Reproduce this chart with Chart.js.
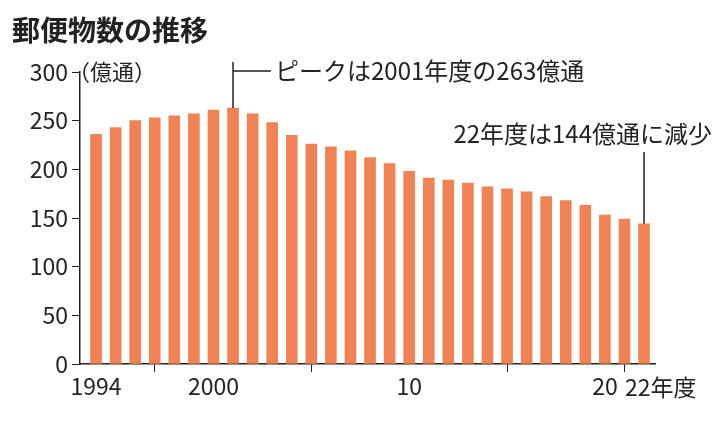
<!DOCTYPE html>
<html><head><meta charset="utf-8">
<script src="https://cdn.jsdelivr.net/npm/chart.js@4/dist/chart.umd.min.js"></script>
<style>body{margin:0;background:#fff}#wrap{width:722px;height:421px;position:relative}</style>
</head><body><div id="wrap"><canvas id="c"></canvas></div>
<script>
const years = [1994,1995,1996,1997,1998,1999,2000,2001,2002,2003,2004,2005,2006,2007,2008,2009,2010,2011,2012,2013,2014,2015,2016,2017,2018,2019,2020,2021,2022];
const volumes = [236,243,250,253,255,257,261,263,257,248,235,226,223,219,212,206,198,191,189,186,182,180,177,172,168,163,153,149,144];
const yTicks = [0,50,100,150,200,250,300];
const xTicks = [1994,2000,2010,2020,2022];
const xLabels = {1994:'1994',2000:'2000',2010:'10',2020:'20',2022:''};
const font = '"Noto Sans CJK JP", "Noto Sans", sans-serif';

const overlay = {
  id: 'overlay',
  afterDraw(chart) {
    const ctx = chart.ctx, x = chart.scales.x, y = chart.scales.y;
    ctx.save();
    ctx.fillStyle = '#222'; ctx.strokeStyle = '#222'; ctx.lineWidth = 1.5;
    ctx.font = 'bold 28px ' + font; ctx.textBaseline = 'middle';
    ctx.fillText('郵便物数の推移', 12, 30);
    ctx.font = '22px ' + font;
    ctx.fillText('（億通）', 68, y.getPixelForValue(300));
    // peak
    const px = x.getPixelForValue(2001), py = y.getPixelForValue(263);
    ctx.beginPath(); ctx.moveTo(px, py); ctx.lineTo(px, 62); ctx.moveTo(px, 71); ctx.lineTo(px + 38, 71); ctx.stroke();
    ctx.font = '24px ' + font;
    ctx.fillText('ピークは2001年度の263億通', px + 42, 71);
    // last
    const lx = x.getPixelForValue(2022), ly = y.getPixelForValue(144);
    ctx.beginPath(); ctx.moveTo(lx, 152); ctx.lineTo(lx, ly); ctx.stroke();
    ctx.textAlign = 'right';
    ctx.fillText('22年度は144億通に減少', 712, 134);
    ctx.textAlign = 'left';
    ctx.font = '23px ' + font;
    ctx.fillText('22年度', lx - 19, 387);
    ctx.restore();
  }
};

new Chart(document.getElementById('c'), {
  type: 'bar',
  data: { datasets: [{ data: years.map((yr, i) => ({ x: yr, y: volumes[i] })), backgroundColor: '#ee8355', barThickness: 11 }] },
  options: {
    responsive: true, maintainAspectRatio: false, animation: false,
    layout: { padding: { top: 72, right: 67, left: 0, bottom: 0 } },
    plugins: { legend: { display: false }, tooltip: { enabled: false } },
    scales: {
      x: {
        type: 'linear', min: 1993.18, max: 2022.56, offset: false,
        afterFit: s => { s.height = 57; },
        afterBuildTicks: s => { s.ticks = xTicks.map(v => ({ value: v })); },
        grid: { drawOnChartArea: false, tickLength: 8, color: '#222' },
        border: { color: '#222', width: 1.5 },
        ticks: { autoSkip: false, maxRotation: 0, color: '#222', padding: 0, font: { size: 23, family: font },
          callback: v => xLabels[v] }
      },
      y: {
        min: 0, max: 300,
        afterFit: s => { s.width = 80; },
        afterBuildTicks: s => { s.ticks = yTicks.map(v => ({ value: v })); },
        grid: { drawOnChartArea: false, tickLength: 8, color: '#222' },
        border: { color: '#222', width: 1.5 },
        ticks: { color: '#222', padding: 4, font: { size: 23, family: font } }
      }
    }
  },
  plugins: [overlay]
});
</script></body></html>
